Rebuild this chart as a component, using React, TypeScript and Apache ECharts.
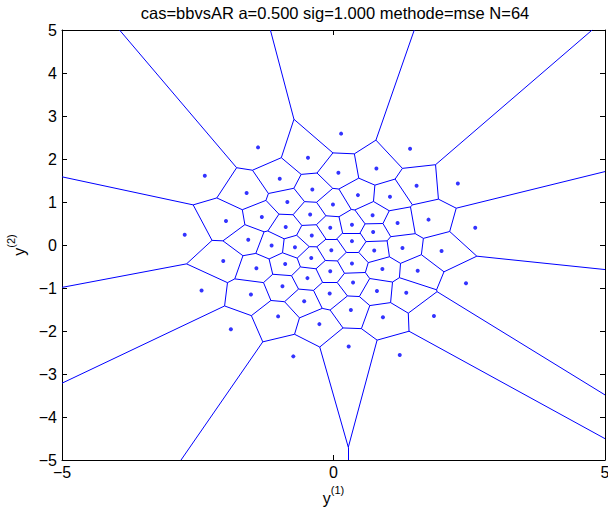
import React, { useEffect, useRef } from "react";
import * as echarts from "echarts";

const TITLE = "cas=bbvsAR a=0.500 sig=1.000 methode=mse N=64";
const X_TICKS_INTERVAL = 5;
const Y_TICKS_INTERVAL = 1;
const AXIS_MIN = -5;
const AXIS_MAX = 5;

// Generator points (y(1), y(2))
const POINT_X = [
  -1.39, -2.37, -1.60, -0.99, 0.14, -0.47, 0.09, -0.39, 0.45, -0.85,
  -0.01, 0.79, 1.41, 1.53, 2.29, 1.04, -1.98, -1.32, -2.74, -1.57,
  -1.14, -2.03, -1.42, -0.43, -0.88, -0.06, 0.72, 0.34, -0.40, -0.71,
  -0.04, 0.34, 0.75, -0.41, -0.89, 0.34, -0.06, -0.48, -0.94, 0.36,
  0.73, 1.18, 1.75, 2.61, 1.27, 1.99, 0.90, 1.55, 2.44, -2.43,
  -1.52, -1.02, -1.89, -0.07, -0.54, 0.32, -0.26, -0.74, 0.28, 0.80,
  1.34, 0.91, 1.85, 1.22,
];
const POINT_Y = [
  2.27, 1.61, 1.21, 1.54, 2.59, 2.03, 1.68, 1.29, 1.16, 1.00,
  0.94, 1.78, 2.24, 1.38, 1.43, 1.12, 0.56, 0.65, 0.24, 0.12,
  -0.01, -0.37, -0.54, 0.71, 0.42, 0.40, 0.69, 0.47, 0.22, -0.05,
  -0.12, 0.09, -0.13, -0.30, -0.44, -0.43, -0.61, -0.77, -0.96, -0.87,
  0.30, 0.51, 0.59, 0.40, -0.07, -0.14, -0.56, -0.60, -0.89, -1.06,
  -1.15, -1.66, -1.96, -1.13, -1.31, -1.51, -1.84, -2.59, -2.36, -1.07,
  -1.11, -1.68, -1.65, -2.56,
];

type V = { x: number; y: number; e: number };

function clipPoly(poly: V[], a: number, b: number, c: number, label: number): V[] {
  const out: V[] = [];
  const n = poly.length;
  for (let k = 0; k < n; k++) {
    const P = poly[k];
    const Q = poly[(k + 1) % n];
    const fp = a * P.x + b * P.y - c;
    const fq = a * Q.x + b * Q.y - c;
    const inP = fp <= 0;
    const inQ = fq <= 0;
    if (inP) {
      out.push({ x: P.x, y: P.y, e: P.e });
      if (!inQ) {
        const t = fp / (fp - fq);
        out.push({ x: P.x + t * (Q.x - P.x), y: P.y + t * (Q.y - P.y), e: label });
      }
    } else if (inQ) {
      const t = fp / (fp - fq);
      out.push({ x: P.x + t * (Q.x - P.x), y: P.y + t * (Q.y - P.y), e: P.e });
    }
  }
  return out;
}

function clipSeg(x1: number, y1: number, x2: number, y2: number, lo: number, hi: number) {
  let t0 = 0, t1 = 1;
  const dx = x2 - x1, dy = y2 - y1;
  const p = [-dx, dx, -dy, dy];
  const q = [x1 - lo, hi - x1, y1 - lo, hi - y1];
  for (let i = 0; i < 4; i++) {
    if (p[i] === 0) {
      if (q[i] < 0) return null;
    } else {
      const r = q[i] / p[i];
      if (p[i] < 0) { if (r > t1) return null; if (r > t0) t0 = r; }
      else { if (r < t0) return null; if (r < t1) t1 = r; }
    }
  }
  return [[x1 + t0 * dx, y1 + t0 * dy], [x1 + t1 * dx, y1 + t1 * dy]];
}

function voronoiEdges(xs: number[], ys: number[]) {
  const B = 200;
  const segs: number[][][] = [];
  for (let i = 0; i < xs.length; i++) {
    let poly: V[] = [
      { x: -B, y: -B, e: -1 }, { x: B, y: -B, e: -1 },
      { x: B, y: B, e: -1 }, { x: -B, y: B, e: -1 },
    ];
    for (let j = 0; j < xs.length; j++) {
      if (j === i) continue;
      const a = xs[j] - xs[i];
      const b = ys[j] - ys[i];
      const c = (xs[j] * xs[j] + ys[j] * ys[j] - xs[i] * xs[i] - ys[i] * ys[i]) / 2;
      poly = clipPoly(poly, a, b, c, j);
      if (poly.length === 0) break;
    }
    for (let k = 0; k < poly.length; k++) {
      const v = poly[k];
      const w = poly[(k + 1) % poly.length];
      if (v.e > i) {
        const s = clipSeg(v.x, v.y, w.x, w.y, AXIS_MIN, AXIS_MAX);
        if (s) segs.push(s);
      }
    }
  }
  return segs;
}

const FONT = "'Liberation Sans', Arial, Helvetica, sans-serif";
const fmt = (v: number) => String(v).replace("-", "\u2212");

export default function App() {
  const ref = useRef<HTMLDivElement>(null);
  useEffect(() => {
    document.body.style.margin = "0";
    const chart = echarts.init(ref.current!, null, { renderer: "svg" });
    const segs = voronoiEdges(POINT_X, POINT_Y);
    const points = POINT_X.map((x, i) => [x, POINT_Y[i]]);
    const axisLine = { show: true, onZero: false, lineStyle: { color: "#000", width: 1 } };
    const axisTick = { show: true, inside: true, length: 5, lineStyle: { color: "#000", width: 1 } };
    const label = { color: "#000", fontSize: 16, fontFamily: FONT, formatter: fmt };
    const rich = {
      b: { fontSize: 16, fontFamily: FONT, color: "#000", lineHeight: 22, verticalAlign: "bottom" },
      s: { fontSize: 11, fontFamily: FONT, color: "#000", lineHeight: 12, verticalAlign: "top" },
    };
    chart.setOption({
      animation: false,
      grid: {
        left: 62, top: 30, width: 543, height: 430,
        containLabel: false, outerBoundsMode: "none",
      },
      graphic: [
        {
          type: "text",
          x: 335,
          y: 13,
          style: {
            text: TITLE,
            font: `16.5px ${FONT}`,
            fill: "#000",
            textAlign: "center",
            textVerticalAlign: "middle",
          },
        },
      ],
      xAxis: [
        {
          type: "value", min: AXIS_MIN, max: AXIS_MAX, interval: X_TICKS_INTERVAL, position: "bottom",
          axisLine, axisTick, splitLine: { show: false },
          axisLabel: { ...label, margin: 4, hideOverlap: false },
          name: "{b|y}{s|(1)}", nameLocation: "middle", nameGap: 20,
          nameTextStyle: { rich },
        },
        {
          type: "value", min: AXIS_MIN, max: AXIS_MAX, interval: X_TICKS_INTERVAL, position: "top",
          axisLine, axisTick, splitLine: { show: false }, axisLabel: { show: false },
        },
      ],
      yAxis: [
        {
          type: "value", min: AXIS_MIN, max: AXIS_MAX, interval: Y_TICKS_INTERVAL, position: "left",
          axisLine, axisTick, splitLine: { show: false },
          axisLabel: { ...label, margin: 5 },
          name: "{b|y}{s|(2)}", nameLocation: "middle", nameGap: 28, nameRotate: 90,
          nameTextStyle: { rich },
        },
        {
          type: "value", min: AXIS_MIN, max: AXIS_MAX, interval: Y_TICKS_INTERVAL, position: "right",
          axisLine, axisTick, splitLine: { show: false }, axisLabel: { show: false },
        },
      ],
      series: [
        {
          type: "lines",
          coordinateSystem: "cartesian2d",
          xAxisIndex: 0,
          yAxisIndex: 0,
          silent: true,
          clip: true,
          lineStyle: { color: "#0000ff", width: 1, opacity: 1, curveness: 0 },
          data: segs.map((s) => ({ coords: s })),
        },
        {
          type: "scatter",
          xAxisIndex: 0,
          yAxisIndex: 0,
          silent: true,
          symbol: "circle",
          symbolSize: 4,
          itemStyle: { color: "#0000ff" },
          data: points,
        },
      ],
    });
    return () => chart.dispose();
  }, []);
  return (
    <div
      ref={ref}
      style={{ position: "absolute", left: 0, top: 0, width: 608, height: 511, background: "#fff" }}
    />
  );
}
